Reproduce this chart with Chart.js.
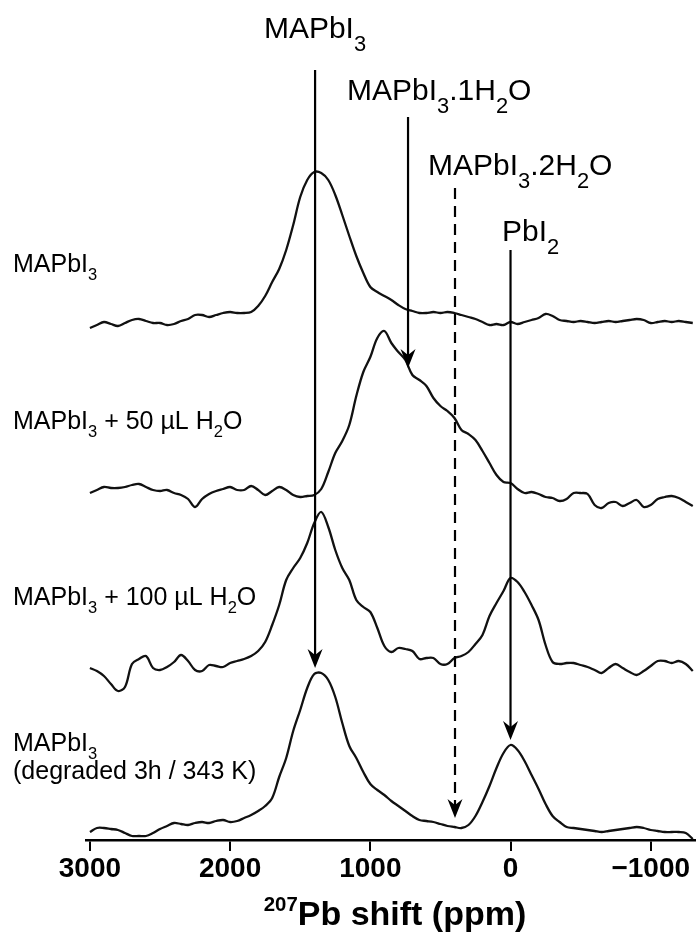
<!DOCTYPE html>
<html>
<head>
<meta charset="utf-8">
<script src="https://cdn.jsdelivr.net/npm/chart.js@4.4.0/dist/chart.umd.min.js"></script>
<style>
  body { margin: 0; background: #fff; }
</style>
</head>
<body>
<canvas id="nmr" width="696" height="936"></canvas>
<script>
"use strict";

// chemical shift grid (ppm), every 50 ppm
const ppm = [3000, 2950, 2900, 2850, 2800, 2750, 2700, 2650, 2600, 2550,
  2500, 2450, 2400, 2350, 2300, 2250, 2200, 2150, 2100, 2050,
  2000, 1950, 1900, 1850, 1800, 1750, 1700, 1650, 1600, 1550,
  1500, 1450, 1400, 1350, 1300, 1250, 1200, 1150, 1100, 1050,
  1000, 950, 900, 850, 800, 750, 700, 650, 600, 550,
  500, 450, 400, 350, 300, 250, 200, 150, 100, 50,
  0, -50, -100, -150, -200, -250, -300, -350, -400, -450,
  -500, -550, -600, -650, -700, -750, -800, -850, -900, -950,
  -1000, -1050, -1100, -1150, -1200, -1250, -1300];

// intensities (arbitrary units) above each trace's own baseline
const pure = [-6, -3, 0, -2, -4, -1, 2, 3, 1, -1,
  -1, -3, -2, 1, 3, 7, 7, 5, 7, 9,
  10, 9, 9, 10, 16, 26, 40, 53, 72, 97,
  125, 142, 150, 149, 142, 127, 107, 86, 66, 49,
  35, 30, 26, 22, 17, 13, 11, 9, 9, 10,
  9, 10, 9, 7, 5, 3, 0, -3, -2, -3,
  0, -2, 0, 2, 4, 8, 6, 2, 1, 0,
  1, 0, -1, 0, 1, 0, 1, 2, 3, 2,
  -1, 0, 1, 0, 1, 0, -1];

const water50 = [0, 3, 6, 5, 5, 6, 8, 9, 6, 3,
  2, 3, 0, -2, -6, -14, -6, -1, 2, 4,
  6, 3, 3, 7, 3, -2, 2, 6, 3, -2,
  -4, -3, -2, 4, 21, 40, 52, 68, 97, 121,
  136, 155, 162, 150, 141, 133, 118, 113, 107, 95,
  87, 82, 75, 63, 59, 53, 42, 30, 18, 11,
  10, 4, 0, 1, -1, -4, -5, -8, -6, 0,
  0, -1, -12, -15, -10, -9, -13, -10, -7, -14,
  -12, -6, -4, -3, -5, -9, -13];

const water100 = [-5, -8, -13, -21, -28, -24, -1, 4, 7, -5,
  -7, -4, 1, 8, 2, -7, -8, -2, -3, -4,
  0, 2, 4, 7, 12, 21, 38, 58, 83, 95,
  105, 120, 140, 151, 136, 113, 95, 83, 63, 56,
  51, 35, 17, 11, 15, 14, 12, 4, 5, 5,
  -1, -1, 5, 7, 11, 19, 28, 47, 60, 72,
  85, 81, 71, 58, 43, 18, 1, -1, 0, 0,
  -2, -4, -7, -10, -5, -1, -5, -9, -12, -8,
  -3, 2, 2, 0, 2, -1, -8];

const degraded = [-4, 0, 0, -1, -2, -5, -8, -8, -8, -5,
  -1, 2, 5, 4, 3, 5, 6, 5, 7, 8,
  6, 7, 10, 13, 17, 22, 30, 51, 70, 97,
  118, 140, 154, 155, 148, 131, 105, 82, 70, 56,
  44, 38, 33, 27, 22, 17, 12, 8, 7, 6,
  4, 2, 1, 0, 3, 12, 26, 42, 60, 75,
  83, 78, 67, 53, 39, 24, 12, 6, 1, 0,
  -1, -2, -3, -4, -3, -2, -1, 0, 1, 0,
  -2, -3, -4, -4, -4, -5, -11];

const traces = [pure, water50, water100, degraded];
const traceOffsets = [518, 347, 177, 12]; // vertical stacking

// x axis ticks
const tickValues = [3000, 2000, 1000, 0, -1000];

// assignment markers: position (ppm), start and arrow tip (y units)
const markerNames = ['MAPbI3', 'MAPbI3.1H2O', 'MAPbI3.2H2O', 'PbI2'];
const markerPpm = [1394, 731, 396, 0];
const markerTop = [770, 723, 652, 590];
const markerTip = [172, 472, 22, 100];
const markerDashed = [false, false, true, false];

const FONT = '"Liberation Sans", Arial, sans-serif';

// text with sub/superscripts: parts = [[text, mode], ...]
function richWidth(ctx, parts, size, weight, subRatio) {
  let w = 0;
  for (const [t, mode] of parts) {
    const s = mode ? size * subRatio : size;
    ctx.font = weight + ' ' + s + 'px ' + FONT;
    w += ctx.measureText(t).width;
  }
  return w;
}

function drawRich(ctx, parts, x, y, opt) {
  const size = opt.size, weight = opt.weight || 'normal';
  const ratio = opt.subRatio || 0.68;
  let cx = x;
  if (opt.align === 'center') cx -= richWidth(ctx, parts, size, weight, ratio) / 2;
  ctx.fillStyle = '#000';
  ctx.textBaseline = 'alphabetic';
  ctx.textAlign = 'left';
  for (const [t, mode] of parts) {
    const s = mode ? size * ratio : size;
    let dy = 0;
    if (mode === 'sub') dy = size * (opt.subShift || 0.3);
    if (mode === 'sup') dy = -size * 0.4;
    ctx.font = weight + ' ' + s + 'px ' + FONT;
    ctx.fillText(t, cx, y + dy);
    cx += ctx.measureText(t).width;
  }
}

const topLabels = [
  {parts: [['MAPbI', ''], ['3', 'sub']], x: 315, y: 38, align: 'center'},
  {parts: [['MAPbI', ''], ['3', 'sub'], ['.1H', ''], ['2', 'sub'], ['O', '']], x: 347, y: 100},
  {parts: [['MAPbI', ''], ['3', 'sub'], ['.2H', ''], ['2', 'sub'], ['O', '']], x: 428, y: 175},
  {parts: [['PbI', ''], ['2', 'sub']], x: 502, y: 241}
];

const sampleLabels = [
  {parts: [['MAPbI', ''], ['3', 'sub']], y: 272},
  {parts: [['MAPbI', ''], ['3', 'sub'], [' + 50 \u00b5L H', ''], ['2', 'sub'], ['O', '']], y: 429},
  {parts: [['MAPbI', ''], ['3', 'sub'], [' + 100 \u00b5L H', ''], ['2', 'sub'], ['O', '']], y: 605},
  {parts: [['MAPbI', ''], ['3', 'sub']], y: 751},
  {parts: [['(degraded 3h / 343 K)', '']], y: 779}
];

function arrowHead(ctx, x, tipY) {
  ctx.beginPath();
  ctx.moveTo(x, tipY);
  ctx.lineTo(x - 7.5, tipY - 19);
  ctx.lineTo(x, tipY - 13);
  ctx.lineTo(x + 7.5, tipY - 19);
  ctx.closePath();
  ctx.fill();
}

const annotations = {
  id: 'annotations',
  afterDatasetsDraw(chart) {
    const ctx = chart.ctx;
    const xs = chart.scales.x, ys = chart.scales.y;
    ctx.save();
    ctx.strokeStyle = '#000';
    ctx.fillStyle = '#000';
    ctx.lineWidth = 2.2;
    markerPpm.forEach((p, i) => {
      const x = xs.getPixelForValue(p);
      const y0 = ys.getPixelForValue(markerTop[i]);
      const y1 = ys.getPixelForValue(markerTip[i]);
      ctx.setLineDash(markerDashed[i] ? [11, 7] : []);
      ctx.beginPath();
      ctx.moveTo(x, y0);
      ctx.lineTo(x, y1 - 12);
      ctx.stroke();
      ctx.setLineDash([]);
      arrowHead(ctx, x, y1);
    });

    topLabels.forEach(l => drawRich(ctx, l.parts, l.x, l.y,
      {size: 30, subRatio: 0.73, subShift: 0.42, align: l.align}));
    sampleLabels.forEach(l => drawRich(ctx, l.parts, 13, l.y,
      {size: 25, subRatio: 0.66, subShift: 0.3}));

    // axis title with superscript mass number
    drawRich(ctx, [['207', 'sup'], ['Pb shift (ppm)', '']], 395, 925,
      {size: 34, weight: 'bold', subRatio: 0.6, align: 'center'});
    ctx.restore();
  }
};

const datasets = traces.map((values, k) => ({
  data: values.map((v, i) => ({x: ppm[i], y: traceOffsets[k] + v})),
  borderColor: '#111',
  borderWidth: 2.3,
  pointRadius: 0,
  tension: 0.35,
  fill: false
}));

new Chart(document.getElementById('nmr'), {
  type: 'line',
  data: {datasets},
  plugins: [annotations],
  options: {
    responsive: false,
    animation: false,
    layout: {padding: {left: 86, right: 0, top: 0, bottom: 0}},
    plugins: {legend: {display: false}, tooltip: {enabled: false}},
    scales: {
      x: {
        type: 'linear',
        reverse: true,
        min: -1323,
        max: 3028,
        afterBuildTicks: s => { s.ticks = tickValues.map(v => ({value: v})); },
        afterFit: s => { s.height = 96; },
        border: {display: true, color: '#000', width: 2.5},
        grid: {drawOnChartArea: false, drawTicks: true, tickLength: 11, color: '#000', lineWidth: 2},
        ticks: {
          color: '#000',
          padding: 1,
          maxRotation: 0,
          autoSkip: false,
          font: {family: FONT, size: 28, weight: 'bold'},
          callback: v => (v < 0 ? '\u2212' + Math.abs(v) : String(v))
        }
      },
      y: {display: false, min: 0, max: 840}
    }
  }
});
</script>
</body>
</html>
